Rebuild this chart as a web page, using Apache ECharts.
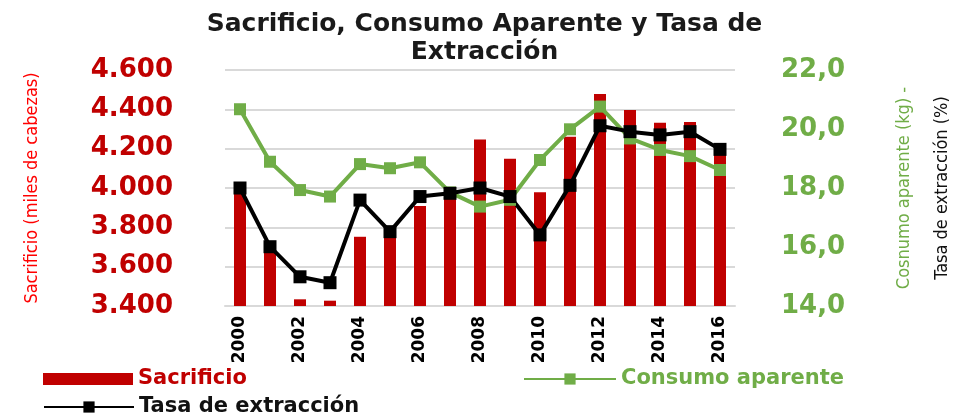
<!DOCTYPE html>
<html>
<head>
<meta charset="utf-8">
<script src="https://cdn.jsdelivr.net/npm/echarts@6/dist/echarts.min.js"></script>
<style>
  html, body { margin: 0; padding: 0; background: #fff; }
  #chart { width: 969px; height: 413px; }
</style>
</head>
<body>
<div id="chart"></div>
<script>
// datos
var years = ['2000','2001','2002','2003','2004','2005','2006','2007','2008',
             '2009','2010','2011','2012','2013','2014','2015','2016'];
var sacrificio = [4000, 3690, 3434, 3427, 3752, 3760, 3908, 3960, 4247,
                  4149, 3978, 4261, 4478, 4396, 4332, 4335, 4180];
var consumo = [20.67, 18.89, 17.93, 17.71, 18.81, 18.67, 18.87, 17.85, 17.37,
               17.6, 18.95, 19.99, 20.76, 19.68, 19.29, 19.08, 18.61];
var tasa = [18.0, 16.01, 14.99, 14.79, 17.59, 16.52, 17.71, 17.82, 18.0,
            17.71, 16.41, 18.09, 20.11, 19.91, 19.8, 19.91, 19.31];

var RED = '#c00000', GREEN = '#70ad47', FONT = 'DejaVu Sans';
var NARROW = '"DejaVu Sans Condensed", "Liberation Sans Narrow", Roboto, sans-serif';

var myChart = echarts.init(document.getElementById('chart'));

var legendText = { fontFamily: FONT, fontWeight: 'bold', fontSize: 21, lineHeight: 24 };

var option = {
  animation: false,
  title: {
    text: 'Sacrificio, Consumo Aparente y Tasa de\nExtracción',
    left: 'center',
    top: 5,
    textStyle: {
      fontFamily: FONT,
      fontWeight: 'bold',
      fontSize: 25,
      lineHeight: 28,
      color: '#1a1a1a'
    }
  },
  grid: { left: 225, right: 222, top: 70, bottom: 107 },
  legend: [
    {
      left: 38, top: 362, itemWidth: 90, itemHeight: 12, itemGap: 6,
      icon: 'rect',
      data: [{ name: 'Sacrificio', textStyle: { color: RED } }],
      textStyle: legendText
    },
    {
      left: 518, top: 362, itemWidth: 92, itemHeight: 14, itemGap: 6,
      data: [{ name: 'Consumo aparente', textStyle: { color: GREEN } }],
      textStyle: legendText
    },
    {
      left: 38, top: 390, itemWidth: 90, itemHeight: 14, itemGap: 6,
      data: [{ name: 'Tasa de extracción', textStyle: { color: '#111' } }],
      textStyle: legendText
    }
  ],
  xAxis: {
    type: 'category',
    data: years,
    axisLine: { lineStyle: { color: '#d9d9d9', width: 2 } },
    axisTick: { show: false },
    axisLabel: {
      interval: 1,
      rotate: 90,
      margin: 10,
      color: '#000',
      fontFamily: FONT,
      fontWeight: 'bold',
      fontSize: 17
    }
  },
  yAxis: [
    {
      type: 'value',
      min: 3400,
      max: 4600,
      interval: 200,
      name: 'Sacrificio (miles de cabezas)',
      nameLocation: 'middle',
      nameRotate: 90,
      nameGap: 184,
      nameTextStyle: {
        color: '#ff0000',
        fontFamily: NARROW,
        fontSize: 18
      },
      axisLine: { show: false },
      axisTick: { show: false },
      splitLine: { lineStyle: { color: '#d9d9d9', width: 2 } },
      axisLabel: {
        margin: 52,
        color: RED,
        fontFamily: FONT,
        fontWeight: 'bold',
        fontSize: 26,
        formatter: function (v) {
          var s = String(v);
          return s.slice(0, 1) + '.' + s.slice(1);
        }
      }
    },
    {
      type: 'value',
      min: 14,
      max: 22,
      interval: 2,
      position: 'right',
      name: '{g|Cosnumo aparente (kg) -}\n{k|Tasa de extracción (%)}',
      nameLocation: 'middle',
      nameRotate: 90,
      nameGap: 150,
      nameTextStyle: {
        lineHeight: 38,
        rich: {
          g: { color: GREEN, fontFamily: NARROW, fontSize: 18, lineHeight: 38 },
          k: { color: '#111', fontFamily: NARROW, fontSize: 18, lineHeight: 38 }
        }
      },
      axisLine: { show: false },
      axisTick: { show: false },
      splitLine: { show: false },
      axisLabel: {
        margin: 46,
        color: GREEN,
        fontFamily: FONT,
        fontWeight: 'bold',
        fontSize: 26,
        formatter: function (v) {
          return v.toFixed(1).replace('.', ',');
        }
      }
    }
  ],
  series: [
    {
      name: 'Sacrificio',
      type: 'bar',
      data: sacrificio,
      barWidth: 12,
      itemStyle: { color: RED }
    },
    {
      name: 'Consumo aparente',
      type: 'line',
      yAxisIndex: 1,
      data: consumo,
      symbol: 'rect',
      symbolSize: 12,
      lineStyle: { color: GREEN, width: 4 },
      itemStyle: { color: GREEN }
    },
    {
      name: 'Tasa de extracción',
      type: 'line',
      yAxisIndex: 1,
      data: tasa,
      symbol: 'rect',
      symbolSize: 13,
      lineStyle: { color: '#000', width: 4 },
      itemStyle: { color: '#000' }
    }
  ]
};

myChart.setOption(option);
</script>
</body>
</html>
